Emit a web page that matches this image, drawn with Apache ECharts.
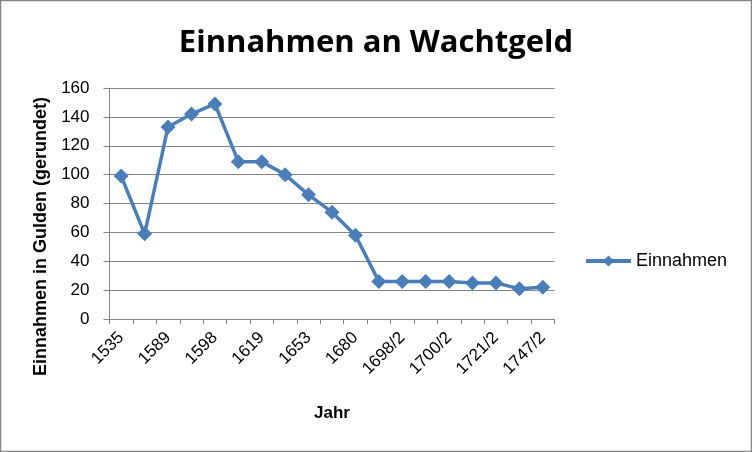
<!DOCTYPE html>
<html>
<head>
<meta charset="utf-8">
<script src="https://cdn.jsdelivr.net/npm/echarts@6/dist/echarts.min.js"></script>
<style>html,body{margin:0;padding:0;background:#fff}#c{width:752px;height:452px}</style>
</head>
<body>
<div id="c"></div>
<script>
var categories = ['1535','1580','1589','1590','1598','1600','1619','1630','1653','1670','1680','1690','1698/2','1699/2','1700/2','1710/2','1721/2','1730/2','1747/2'];
var einnahmen = [99, 59, 133, 142, 149, 109, 109, 100, 86, 74, 58, 26, 26, 26, 26, 25, 25, 21, 22];
var yTicks = [0, 20, 40, 60, 80, 100, 120, 140, 160];

var FONT = 'Liberation Sans';
var chart = echarts.init(document.getElementById('c'));
chart.setOption({
  animation: false,
  backgroundColor: '#fff',
  textStyle: { fontFamily: FONT },
  graphic: [{ type: 'rect', shape: { x: 0.5, y: 0.5, width: 751, height: 451 }, style: { fill: 'none', stroke: '#868686', lineWidth: 1.5 } }],
  title: {
    text: 'Einnahmen an Wachtgeld', left: 'center', top: 23,
    textStyle: { fontFamily: 'Open Sans', fontSize: 31, fontWeight: 'bold', color: '#000' }
  },
  legend: {
    left: 579, top: 247, itemWidth: 45, itemHeight: 14, itemGap: 2,
    lineStyle: { width: 4 },
    textStyle: { fontFamily: FONT, fontSize: 18, color: '#000' },
    data: ['Einnahmen']
  },
  grid: { left: 109.5, right: 197.5, top: 88, bottom: 133 },
  xAxis: {
    type: 'category', data: categories, boundaryGap: true,
    name: 'Jahr', nameLocation: 'middle', nameGap: 86,
    nameTextStyle: { fontFamily: FONT, fontSize: 17, fontWeight: 'bold', color: '#000' },
    axisLine: { lineStyle: { color: '#868686', width: 1 } },
    axisTick: { show: true, interval: 0, length: 5, lineStyle: { color: '#868686' } },
    axisLabel: { interval: 1, rotate: 45, fontFamily: FONT, fontSize: 17, color: '#000', margin: 16 },
    splitLine: { show: false }
  },
  yAxis: {
    type: 'value', min: yTicks[0], max: yTicks[yTicks.length - 1], interval: 20,
    name: 'Einnahmen in Gulden (gerundet)', nameLocation: 'middle', nameGap: 56,
    nameTextStyle: { fontFamily: FONT, fontSize: 18, fontWeight: 'bold', color: '#000', padding: [0, 66, 0, 0] },
    axisLine: { show: true, lineStyle: { color: '#868686', width: 1 } },
    axisTick: { show: true, length: 6, lineStyle: { color: '#868686' } },
    axisLabel: { fontFamily: FONT, fontSize: 17, color: '#000', margin: 20 },
    splitLine: { lineStyle: { color: '#868686', width: 1 } }
  },
  series: [{
    name: 'Einnahmen', type: 'line', data: einnahmen,
    symbol: 'diamond', symbolSize: 15,
    lineStyle: { color: '#4A7EBB', width: 3.5 },
    itemStyle: { color: '#4A7EBB' }
  }]
});
</script>
</body>
</html>
